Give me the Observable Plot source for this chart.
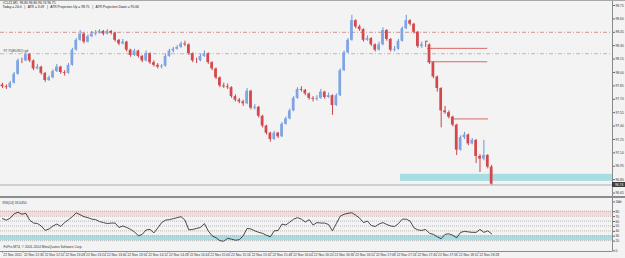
<!DOCTYPE html>
<html><head><meta charset="utf-8">
<script src="https://cdn.jsdelivr.net/npm/d3@7"></script>
<script src="https://cdn.jsdelivr.net/npm/@observablehq/plot@0.6"></script>
<style>
html,body{margin:0;padding:0;background:#f3f3f3;}
#chart{position:relative;width:625px;height:258px;overflow:hidden;background:#f3f3f3;}
#main{position:absolute;left:0;top:0;}
#rsi{position:absolute;left:0;top:197px;}
.ln{position:absolute;background:#8c8c8c;}
</style></head><body>
<div id="chart">
  <div id="main"></div>
  <div id="rsi"></div>
  <div class="ln" style="left:0;top:0;width:625px;height:1px;background:#a8a8a8"></div>
  <div class="ln" style="left:0;top:196px;width:625px;height:1.5px;"></div>
  <div class="ln" style="left:0;top:251px;width:612px;height:1px;"></div>
</div>
<script>
// ---- data ----
const symbolLine = "#CLZ1,M1  96.80 96.80 96.74 96.75";
const infoLine = "Today = 24.0   |   ATR = 3.09   |   ATR Projection Up = 98.75   |   ATR Projection Down = 95.66";
const pivotLabel = "97.75(EURO) pd";
const rsiTitle = "RSI(14) 33.6450";
const footer = "FxPro MT4, \u00a9 2001-2014 MetaQuotes Software Corp.";

const barMinutes = 3;
const opens = [97.86,97.84,97.83,97.88,97.98,98.13,98.13,98.20,98.13,98.04,
98.06,97.99,97.91,97.94,98.01,98.06,98.00,97.99,98.08,98.25,
98.36,98.43,98.34,98.40,98.43,98.44,98.46,98.43,98.46,98.44,
98.36,98.32,98.34,98.25,98.19,98.24,98.18,98.13,98.21,98.11,
98.08,98.06,98.07,98.18,98.24,98.26,98.28,98.32,98.31,98.21,
98.13,98.13,98.18,98.21,98.11,98.04,97.94,97.85,97.84,97.83,
97.73,97.69,97.67,97.65,97.79,97.60,97.61,97.51,97.40,97.32,
97.25,97.32,97.28,97.42,97.48,97.57,97.71,97.81,97.80,97.76,
97.71,97.70,97.71,97.78,97.72,97.74,97.63,97.74,98.02,98.22,
98.36,98.58,98.51,98.48,98.36,98.38,98.31,98.25,98.31,98.47,
98.37,98.25,98.26,98.35,98.49,98.58,98.54,98.45,98.29,98.31,
98.31,98.11,97.95,97.82,97.57,97.55,97.50,97.41,97.13,97.27,
97.30,97.20,97.24,97.06,97.03,97.07,96.94];
const highs = [97.88,97.86,97.90,98.00,98.15,98.16,98.22,98.21,98.14,98.09,
98.07,98.00,97.96,98.03,98.09,98.07,98.02,98.10,98.27,98.38,
98.47,98.44,98.42,98.46,98.47,98.48,98.47,98.48,98.47,98.45,
98.37,98.37,98.35,98.26,98.26,98.25,98.19,98.24,98.22,98.13,
98.10,98.09,98.20,98.26,98.28,98.30,98.34,98.35,98.32,98.22,
98.16,98.20,98.24,98.22,98.12,98.05,97.95,97.88,97.87,97.84,
97.75,97.71,97.69,97.82,97.80,97.64,97.62,97.52,97.41,97.33,
97.34,97.33,97.44,97.50,97.59,97.73,97.83,97.84,97.81,97.77,
97.73,97.74,97.81,97.79,97.77,97.75,97.76,98.04,98.24,98.38,
98.64,98.59,98.53,98.49,98.41,98.39,98.32,98.34,98.50,98.48,
98.38,98.29,98.37,98.51,98.64,98.59,98.55,98.46,98.34,98.35,
98.32,98.12,97.96,97.83,97.62,97.57,97.51,97.42,97.29,97.33,
97.31,97.26,97.25,97.08,97.24,97.08,96.96];
const lows = [97.82,97.81,97.82,97.87,97.97,98.10,98.12,98.11,98.02,98.03,
97.97,97.89,97.90,97.93,98.00,97.98,97.96,97.98,98.07,98.24,
98.35,98.32,98.33,98.39,98.41,98.43,98.41,98.42,98.42,98.34,
98.30,98.31,98.23,98.17,98.18,98.16,98.11,98.12,98.09,98.06,
98.04,98.04,98.06,98.17,98.22,98.25,98.27,98.29,98.19,98.11,
98.10,98.12,98.17,98.09,98.02,97.92,97.83,97.82,97.81,97.71,
97.67,97.65,97.62,97.64,97.58,97.58,97.49,97.38,97.30,97.22,
97.24,97.26,97.27,97.41,97.47,97.56,97.70,97.78,97.74,97.69,
97.67,97.68,97.70,97.70,97.71,97.52,97.62,97.73,98.01,98.21,
98.35,98.49,98.46,98.34,98.35,98.29,98.23,98.24,98.30,98.35,
98.23,98.23,98.25,98.34,98.48,98.52,98.43,98.27,98.27,98.28,
98.09,97.93,97.78,97.38,97.53,97.48,97.39,97.07,97.12,97.25,
97.18,97.19,96.98,96.88,97.01,96.92,96.74];
const closes = [97.84,97.83,97.88,97.98,98.13,98.13,98.20,98.13,98.04,98.06,
97.99,97.91,97.94,98.01,98.06,98.00,97.99,98.08,98.25,98.36,
98.43,98.34,98.40,98.43,98.44,98.46,98.43,98.46,98.44,98.36,
98.32,98.34,98.25,98.19,98.24,98.18,98.13,98.21,98.11,98.08,
98.06,98.07,98.18,98.24,98.26,98.28,98.32,98.31,98.21,98.13,
98.13,98.18,98.21,98.11,98.04,97.94,97.85,97.84,97.83,97.73,
97.69,97.67,97.65,97.79,97.60,97.61,97.51,97.40,97.32,97.25,
97.32,97.28,97.42,97.48,97.57,97.71,97.81,97.80,97.76,97.71,
97.70,97.71,97.78,97.72,97.74,97.63,97.74,98.02,98.22,98.36,
98.58,98.51,98.48,98.36,98.38,98.31,98.25,98.31,98.47,98.37,
98.25,98.26,98.35,98.49,98.58,98.54,98.45,98.29,98.31,98.31,
98.11,97.95,97.82,97.57,97.55,97.50,97.41,97.13,97.27,97.30,
97.20,97.24,97.06,97.03,97.07,96.94,96.75];
const rsiValues = [65,62,66,75,78,74,76,62,56,55,
50,41,44,50,54,49,57,63,69,77,
73,69,67,64,63,59,57,55,56,56,
47,50,47,43,38,30,33,42,43,36,
46,57,62,63,65,67,69,62,42,43,
45,47,55,40,30,26,20,19,25,23,
21,22,30,45,44,40,37,35,31,28,
40,41,54,52,58,64,67,64,58,63,
52,57,56,56,53,40,55,70,74,76,
77,72,66,57,60,51,49,54,57,53,
50,49,55,64,64,60,46,42,41,43,
35,33,28,24,33,34,31,26,37,39,
38,37,37,43,37,40,34];

const priceTicks = [96.65,96.80,96.95,97.10,97.25,97.40,97.55,97.70,97.85,98.00,98.15,98.30,98.45,98.60,98.75];
const rsiTicks = [0,20,30,40,50,60,70,80,100];
const rsiLevels = [20,30,40,50,60,70,80];
const rsiHighBand = [70,80];
const rsiLowBand = [20,30];
const timeTickMinutes = [0,16,32,48,64,80,96,112,128,144,160,176,192,208,224,240,256,272,288,304,320,336,352,368];
const timeLabels = ["22 Nov 2011","22 Nov 12:36","22 Nov 12:52","22 Nov 13:08","22 Nov 13:24","22 Nov 13:40","22 Nov 13:56","22 Nov 14:12","22 Nov 14:28","22 Nov 14:44","22 Nov 15:00","22 Nov 15:16","22 Nov 15:32","22 Nov 15:48","22 Nov 16:04","22 Nov 16:20","22 Nov 16:36","22 Nov 16:52","22 Nov 17:08","22 Nov 17:24","22 Nov 17:40","22 Nov 17:56","22 Nov 18:12","22 Nov 18:28"];

const atrLine = 98.45;
const pivotLine = 98.21;
const lastPrice = 96.74;
const segPrice = [98.27, 98.12, 97.48];
const segFrom = [328.5, 328.5, 348];
const segTo = [375, 375, 375.6];
const zoneLow = 96.78, zoneHigh = 96.86, zoneFrom = 307.6;
const markerMinute = 328, markerPrice = 98.35;

// ---- layout ----
const T0 = -1.55, T1 = 471.4;
const PXPERMIN = 1.294;
const font = "Liberation Sans, Arial, sans-serif";
const fs = 3.3;

const candles = closes.map((c, i) => ({t: i * barMinutes, o: opens[i], h: highs[i], l: lows[i], c}));
const isUp = d => d.c > d.o;
const segs = segPrice.map((p, i) => ({p, a: segFrom[i], b: segTo[i]}));

const main = Plot.plot({
  width: 625, height: 197,
  marginLeft: 0, marginRight: 13, marginTop: 0, marginBottom: 0,
  x: {domain: [T0, T1], axis: null},
  y: {domain: [96.600, 98.806], axis: null},
  style: {background: "transparent", fontFamily: font, fontSize: fs + "px", color: "#333", overflow: "visible"},
  marks: [
    Plot.rect([[zoneLow, zoneHigh]], {x1: () => zoneFrom, x2: () => T1, y1: d => d[0], y2: d => d[1], fill: "#a9dde4"}),
    Plot.ruleY([atrLine], {stroke: "#c77b7b", strokeWidth: 0.8, strokeDasharray: "4,2,1,2"}),
    Plot.ruleY([pivotLine], {stroke: "#a9a9a9", strokeWidth: 0.8, strokeDasharray: "4,2,1,2"}),
    Plot.text([pivotLabel], {x: () => T0, y: () => pivotLine, text: d => d, textAnchor: "start", dx: 3, dy: -2.3, fill: "#444", fontSize: fs}),
    Plot.ruleY([lastPrice], {stroke: "#9c9c9c", strokeWidth: 0.8}),
    Plot.ruleY(segs, {y: "p", x1: "a", x2: "b", stroke: "#d45b5b", strokeWidth: 0.9}),
    Plot.dot([{t: markerMinute, p: markerPrice}], {x: "t", y: "p", r: 0.8, fill: "#c0392b", stroke: null}),
    Plot.ruleX(candles, {x: "t", y1: "l", y2: "h", stroke: d => isUp(d) ? "#3f7fd6" : "#c0181e", strokeWidth: 0.8}),
    Plot.rect(candles, {x1: d => d.t - 1.05, x2: d => d.t + 1.05, y1: "o", y2: "c", fill: d => isUp(d) ? "#7fa4e4" : "#d4484d"}),
    Plot.ruleX([T1], {stroke: "#8a8a8a", strokeWidth: 1}),
    Plot.axisY(priceTicks, {anchor: "right", tickSize: 2, tickPadding: 1, tickFormat: d => d.toFixed(2), fontSize: fs, stroke: "#666", fill: "#333"}),
    Plot.rect([lastPrice], {x1: () => T1, x2: () => T1 + 13 / PXPERMIN, y1: d => d - 0.028, y2: d => d + 0.028, fill: "#3c3c3c"}),
    Plot.text([lastPrice], {x: () => T1, y: d => d, text: d => d.toFixed(2), textAnchor: "start", dx: 2.5, fill: "white", fontSize: fs}),
    Plot.text([symbolLine], {frameAnchor: "top-left", text: d => d, textAnchor: "start", lineAnchor: "middle", dx: 2, dy: 2.8, fill: "#222", fontSize: fs}),
    Plot.text([infoLine], {frameAnchor: "top-left", text: d => d, textAnchor: "start", lineAnchor: "middle", dx: 2, dy: 6.8, fill: "#222", fontSize: fs})
  ]
});
document.getElementById("main").appendChild(main);

const rsiPts = rsiValues.map((v, i) => ({t: i * barMinutes, v}));
const rsiPlot = Plot.plot({
  width: 625, height: 61,
  marginLeft: 0, marginRight: 13, marginTop: 4, marginBottom: 8,
  x: {domain: [T0, T1], axis: null},
  y: {domain: [0, 100], axis: null},
  style: {background: "transparent", fontFamily: font, fontSize: fs + "px", color: "#333", overflow: "visible"},
  marks: [
    Plot.rect([rsiHighBand], {x1: () => T0, x2: () => T1, y1: d => d[0], y2: d => d[1], fill: "#f8d9d9"}),
    Plot.rect([rsiLowBand], {x1: () => T0, x2: () => T1, y1: d => d[0], y2: d => d[1], fill: "#a9dde4"}),
    Plot.ruleY(rsiLevels, {stroke: "#a0a0a0", strokeWidth: 0.7, strokeDasharray: "1,1"}),
    Plot.line(rsiPts, {x: "t", y: "v", stroke: "#1e1e1e", strokeWidth: 0.8}),
    Plot.ruleX([T1], {y1: 108, y2: -3, stroke: "#8a8a8a", strokeWidth: 1}),
    Plot.axisY(rsiTicks, {anchor: "right", tickSize: 2, tickPadding: 1, fontSize: fs, stroke: "#666", fill: "#333", dy: 0.4}),
    Plot.ruleX(timeTickMinutes, {x: d => d, y1: -2, y2: -5.5, stroke: "#555", strokeWidth: 0.6}),
    Plot.text(timeTickMinutes, {x: d => d, y: () => -10, text: (d, i) => timeLabels[i], textAnchor: "start", dx: 0.8, fill: "#333", fontSize: fs}),
    Plot.text([rsiTitle], {frameAnchor: "top-left", text: d => d, textAnchor: "start", lineAnchor: "top", dx: 2, dy: 0.5, fill: "#333", fontSize: fs}),
    Plot.text([footer], {x: () => T0, y: () => 8, text: d => d, textAnchor: "start", dx: 3, fill: "#333", fontSize: fs})
  ]
});
document.getElementById("rsi").appendChild(rsiPlot);
</script>
</body></html>
